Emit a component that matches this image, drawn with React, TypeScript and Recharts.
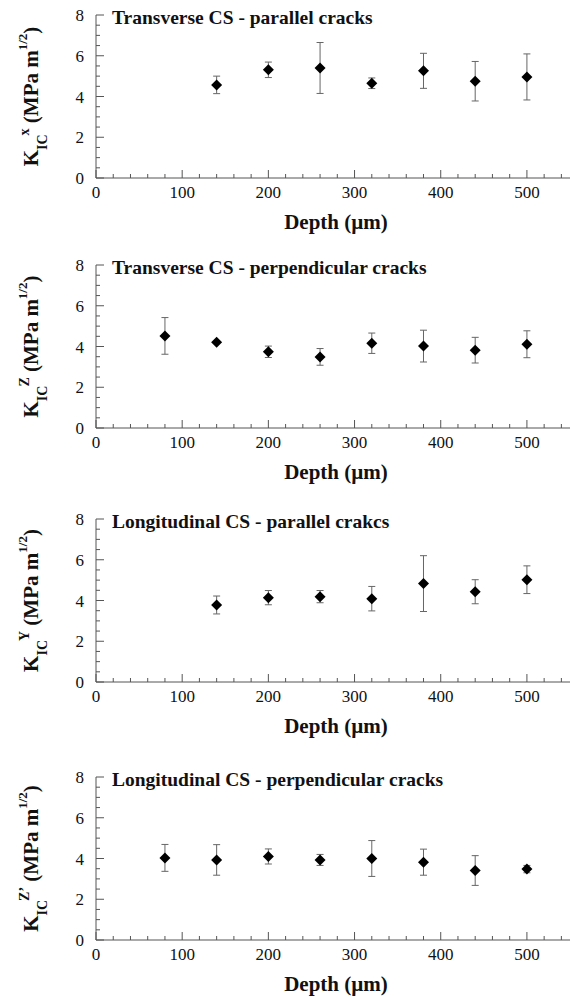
import React from 'react';
import { ScatterChart, Scatter, XAxis, YAxis, ErrorBar, Customized } from 'recharts';

const FONT = "'Liberation Serif', 'DejaVu Serif', 'Times New Roman', serif";
const AXIS = '#555';
const INK = '#111';

// axis ticks (major every 100 / 2, minor every 20 / 0.5)
const depthTicks = [0, 20, 40, 60, 80, 100, 120, 140, 160, 180, 200, 220, 240, 260, 280, 300, 320, 340, 360, 380, 400, 420, 440, 460, 480, 500, 520, 540];
const kTicks = [0, 0.5, 1, 1.5, 2, 2.5, 3, 3.5, 4, 4.5, 5, 5.5, 6, 6.5, 7, 7.5, 8];

// Transverse CS - parallel cracks
const transParDepth = [140, 200, 260, 320, 380, 440, 500];
const transParK = [4.57, 5.31, 5.4, 4.65, 5.26, 4.75, 4.96];
const transParErr = [0.43, 0.38, 1.25, 0.26, 0.86, 0.97, 1.13];

// Transverse CS - perpendicular cracks
const transPerpDepth = [80, 140, 200, 260, 320, 380, 440, 500];
const transPerpK = [4.52, 4.21, 3.74, 3.49, 4.16, 4.02, 3.82, 4.11];
const transPerpErr = [0.9, 0.04, 0.28, 0.41, 0.5, 0.78, 0.63, 0.66];

// Longitudinal CS - parallel crakcs
const longParDepth = [140, 200, 260, 320, 380, 440, 500];
const longParK = [3.78, 4.14, 4.19, 4.09, 4.83, 4.43, 5.02];
const longParErr = [0.44, 0.35, 0.3, 0.6, 1.37, 0.59, 0.68];

// Longitudinal CS - perpendicular cracks
const longPerpDepth = [80, 140, 200, 260, 320, 380, 440, 500];
const longPerpK = [4.03, 3.93, 4.1, 3.93, 4.0, 3.82, 3.41, 3.48];
const longPerpErr = [0.66, 0.75, 0.37, 0.27, 0.88, 0.64, 0.73, 0.18];

const txt = { fontFamily: FONT };

const XTick = (props: any) => {
  const { x, y, payload } = props;
  const major = payload.value % 100 === 0;
  return (
    <g>
      <line x1={x} x2={x} y1={y} y2={y - (major ? 8 : 4)} stroke={AXIS} />
      {major && (
        <text x={x} y={y + 20} textAnchor="middle" fontSize={17} style={txt} fill={INK}>
          {payload.value}
        </text>
      )}
    </g>
  );
};

const YTick = (props: any) => {
  const { x, y, payload } = props;
  const major = payload.value % 2 === 0;
  return (
    <g>
      <line x1={x} x2={x + (major ? 8 : 4)} y1={y} y2={y} stroke={AXIS} />
      {major && (
        <text x={x - 12} y={y + 6} textAnchor="end" fontSize={17} style={txt} fill={INK}>
          {payload.value}
        </text>
      )}
    </g>
  );
};

const Diamond = (props: any) => {
  const { cx, cy } = props;
  const r = 5.5;
  return <path d={`M${cx},${cy - r}L${cx + r},${cy}L${cx},${cy + r}L${cx - r},${cy}Z`} fill="#000" />;
};

interface PanelProps {
  top: number;
  title: string;
  sup: string;
  depth: number[];
  k: number[];
  err: number[];
}

const Panel: React.FC<PanelProps> = ({ top, title, sup, depth, k, err }) => {
  const data = depth.map((d, i) => ({ depth: d, k: k[i], err: err[i] }));

  const yLabel = (props: any) => {
    const vb = props.viewBox;
    const cy = vb.y + vb.height / 2;
    const x = 38;
    return (
      <text
        x={x}
        y={cy}
        transform={`rotate(-90 ${x} ${cy})`}
        textAnchor="middle"
        style={txt}
        fontWeight="bold"
        fontSize={21}
        fill={INK}
      >
        K
        <tspan fontSize={14} dy={9}>IC</tspan>
        <tspan fontSize={14} dy={-18} dx={-1}>{sup}</tspan>
        <tspan dy={9}> (MPa m</tspan>
        <tspan fontSize={13} dy={-11}>1/2</tspan>
        <tspan dy={11}>)</tspan>
      </text>
    );
  };

  const xLabel = (props: any) => {
    const vb = props.viewBox;
    return (
      <text
        x={vb.x + vb.width / 2 + 3}
        y={vb.y + 51}
        textAnchor="middle"
        style={txt}
        fontWeight="bold"
        fontSize={21}
        fill={INK}
      >
        Depth (µm)
      </text>
    );
  };

  return (
    <div style={{ position: 'absolute', left: 0, top }}>
      <ScatterChart width={571} height={240} margin={{ top: 15, right: 1, bottom: 0, left: 0 }}>
        <XAxis
          type="number"
          dataKey="depth"
          domain={[0, 550]}
          ticks={depthTicks}
          interval={0}
          tickSize={0}
          tickMargin={0}
          tickLine={false}
          tick={<XTick />}
          height={62}
          stroke={AXIS}
          allowDataOverflow
          label={xLabel}
        />
        <YAxis
          type="number"
          dataKey="k"
          domain={[0, 8]}
          ticks={kTicks}
          interval={0}
          tickSize={0}
          tickMargin={0}
          tickLine={false}
          tick={<YTick />}
          width={96}
          stroke={AXIS}
          allowDataOverflow
          label={yLabel}
        />
        <Scatter data={data} dataKey="k" shape={<Diamond />} isAnimationActive={false}>
          <ErrorBar dataKey="err" direction="y" width={3.5} stroke="#666" strokeWidth={1} isAnimationActive={false} />
        </Scatter>
        <Customized
          component={() => (
            <text x={112} y={24} style={txt} fontWeight="bold" fontSize={19.5} fill={INK}>
              {title}
            </text>
          )}
        />
      </ScatterChart>
    </div>
  );
};

export default function App() {
  return (
    <div style={{ position: 'absolute', left: 0, top: 0, width: 571, height: 999, overflow: 'hidden', background: '#fff', fontFamily: FONT }}>
      <Panel top={0} title="Transverse CS - parallel cracks" sup="x" depth={transParDepth} k={transParK} err={transParErr} />
      <Panel top={250} title="Transverse CS - perpendicular cracks" sup="Z" depth={transPerpDepth} k={transPerpK} err={transPerpErr} />
      <Panel top={504} title="Longitudinal CS - parallel crakcs" sup="Y" depth={longParDepth} k={longParK} err={longParErr} />
      <Panel top={762} title="Longitudinal CS - perpendicular cracks" sup="Z’" depth={longPerpDepth} k={longPerpK} err={longPerpErr} />
    </div>
  );
}
